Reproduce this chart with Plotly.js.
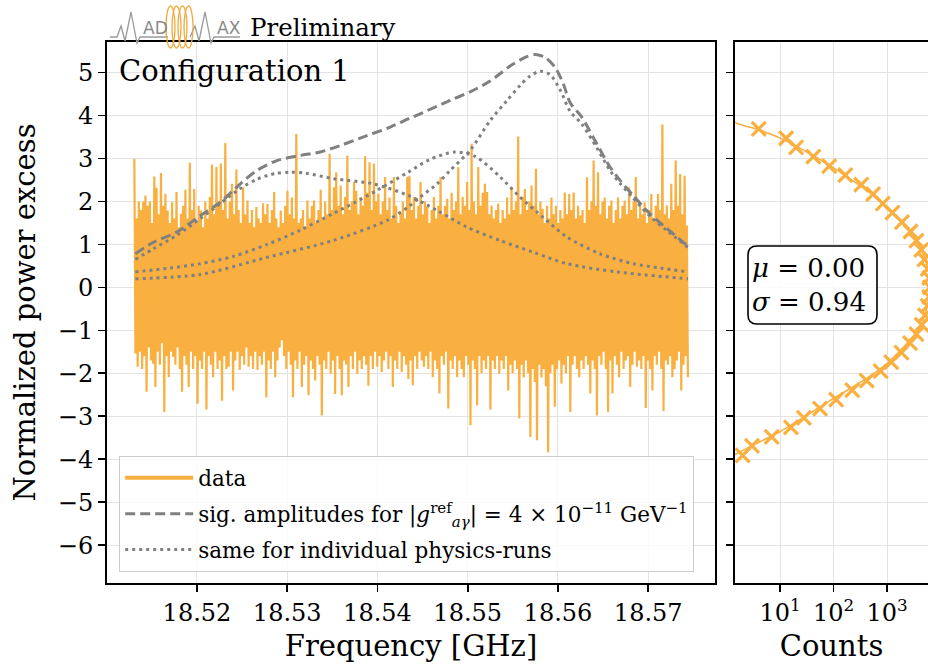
<!DOCTYPE html>
<html><head><meta charset="utf-8">
<script src="https://cdn.plot.ly/plotly-3.0.1.min.js"></script>
<style>html,body{margin:0;padding:0;background:#fff}#chart{width:928px;height:664px}</style>
</head><body><div id="chart"></div>
<script>
// ---------------- data ----------------
const freqStart = 18.51306, freqStop = 18.5744;   // GHz, span of the measured spectrum
// upward excursions of the noisy normalized power (read from picture, left to right)
const dataHigh = [
2.99,1.6,2.0,1.8,2.0,2.14,1.9,2.0,1.5,2.58,
2.32,1.7,2.66,1.9,2.18,1.79,1.5,1.98,1.6,2.22,
1.4,1.71,1.9,2.27,1.6,2.90,1.8,2.29,1.5,1.9,
1.79,1.4,2.0,1.6,2.1,2.86,1.7,2.80,1.9,2.88,
1.8,3.36,1.6,2.0,2.41,1.7,2.74,1.8,1.5,2.33,
1.7,2.02,1.5,1.8,1.4,1.87,1.6,1.5,1.96,1.7,
1.94,1.5,1.8,2.22,1.6,1.4,1.79,1.5,1.9,2.25,
1.7,2.09,1.6,3.57,1.5,1.60,1.8,1.4,2.02,1.6,
1.9,2.02,1.5,1.8,2.27,1.6,2.0,1.7,3.11,1.8,
2.33,2.68,1.9,2.37,1.7,2.1,3.07,1.8,2.0,2.45,
2.25,1.7,2.1,1.9,3.05,2.2,2.91,1.8,2.88,2.0,
2.18,1.7,2.0,2.57,1.8,2.09,1.6,2.57,1.9,1.5,
1.71,2.0,1.6,2.57,2.60,1.8,2.1,1.6,1.9,2.45,
1.7,2.0,1.87,1.5,1.8,2.1,1.6,1.9,2.57,1.7,
1.9,2.06,1.6,2.2,1.8,2.0,2.80,1.7,2.1,1.9,
2.45,1.8,3.34,2.0,1.7,2.80,1.9,2.2,2.41,2.22,
1.7,1.9,1.6,1.8,1.95,1.5,1.8,1.6,2.09,1.7,
2.33,1.8,2.0,3.51,1.7,2.1,2.29,1.8,2.0,2.37,
1.9,2.76,1.7,2.0,1.83,1.5,1.9,1.6,2.09,1.7,
1.9,1.5,1.8,1.6,2.21,1.7,2.17,1.8,2.21,1.6,
1.9,1.67,1.8,1.5,2.56,1.8,2.0,2.95,1.9,2.68,
1.7,2.0,2.09,1.6,1.9,2.02,1.5,1.8,2.09,1.6,
1.9,2.02,1.7,2.33,1.8,2.0,2.57,1.6,1.9,1.7,
1.98,1.5,1.8,2.17,1.6,1.9,2.17,1.8,3.79,1.7,
1.91,1.6,2.41,1.8,2.95,1.9,2.64,1.7,2.60,1.44];
// downward excursions, interleaved with the upward ones
const dataLow = [
-1.54,-1.85,-1.5,-1.9,-1.6,-2.43,-1.4,-1.7,-1.78,-2.32,
-1.5,-1.8,-1.3,-2.90,-1.6,-2.09,-1.5,-1.62,-1.8,-1.4,
-1.9,-2.43,-1.6,-1.8,-2.32,-1.5,-1.9,-1.6,-2.71,-1.7,
-1.9,-1.5,-2.84,-1.6,-1.8,-2.09,-1.5,-1.9,-1.7,-2.64,
-1.6,-1.9,-1.85,-1.5,-2.40,-1.7,-1.5,-1.92,-1.6,-1.8,
-1.4,-1.85,-1.6,-1.9,-1.5,-1.92,-1.6,-1.8,-1.5,-2.56,
-1.7,-1.9,-1.5,-2.09,-1.7,-1.4,-1.23,-1.6,-1.9,-1.5,
-1.8,-2.56,-1.7,-1.9,-1.5,-2.32,-1.8,-1.6,-2.51,-1.7,
-1.9,-2.17,-1.6,-1.8,-2.98,-1.7,-1.9,-1.5,-2.01,-1.7,
-2.48,-1.6,-1.9,-2.51,-1.7,-1.8,-2.32,-1.6,-1.9,-1.5,
-2.01,-1.7,-1.9,-1.6,-1.8,-2.29,-1.6,-1.9,-1.5,-1.85,
-1.6,-1.97,-1.7,-1.5,-1.9,-1.6,-2.32,-1.7,-1.9,-1.5,
-1.97,-1.6,-1.8,-2.13,-1.7,-2.28,-1.6,-1.9,-1.5,-1.7,
-1.85,-1.6,-1.9,-1.5,-2.09,-1.7,-1.9,-2.47,-1.6,-1.8,
-1.5,-2.82,-1.7,-1.9,-1.6,-2.09,-1.7,-1.9,-2.09,-1.6,
-1.8,-3.21,-1.7,-1.9,-2.75,-1.6,-2.0,-1.7,-1.9,-1.6,
-2.84,-1.7,-1.9,-1.6,-2.01,-1.7,-1.9,-1.6,-2.40,-1.8,
-2.0,-1.7,-1.9,-3.05,-1.8,-2.1,-1.7,-2.0,-3.48,-1.9,
-2.2,-3.56,-1.8,-2.1,-1.9,-2.3,-3.84,-2.0,-1.8,-2.78,
-1.9,-1.7,-2.24,-1.8,-2.0,-1.6,-2.90,-1.8,-1.6,-1.9,
-2.09,-1.7,-1.9,-1.6,-1.8,-2.47,-1.7,-1.9,-2.98,-1.6,
-1.8,-1.5,-1.9,-2.90,-1.7,-2.47,-1.6,-1.8,-2.09,-1.5,
-1.9,-1.7,-1.6,-2.32,-1.8,-1.5,-1.85,-1.7,-1.9,-1.6,
-2.81,-1.7,-1.9,-2.40,-1.6,-1.8,-1.5,-1.9,-2.88,-1.7,
-1.8,-1.6,-2.09,-1.9,-1.7,-1.5,-2.40,-1.8,-1.6,-2.09];

// combined signal amplitude (dashed)
const sigFreq = [18.51317,18.51519,18.51779,18.52037,18.52258,18.52480,18.52664,18.52886,18.53144,18.53365,18.53587,18.53883,18.54141,18.54340,18.54473,18.54805,18.55027,18.55248,18.55470,18.55636,18.55746,18.55858,18.55968,18.56057,18.56134,18.56264,18.56430,18.56577,18.56688,18.56832,18.57020,18.57208,18.57426];
const sigAmp  = [0.78,1.05,1.29,1.67,1.98,2.41,2.72,2.95,3.07,3.15,3.30,3.53,3.73,3.92,4.04,4.35,4.55,4.80,5.15,5.35,5.42,5.35,5.12,4.75,4.30,3.96,3.34,2.80,2.49,2.14,1.71,1.37,0.98];
// individual physics runs (dotted)
const run1Freq = [18.51317,18.51517,18.51782,18.52037,18.52258,18.52480,18.52668,18.52867,18.53033,18.53199,18.53509,18.53952,18.54340,18.54661,18.54993,18.55359,18.55724,18.56101,18.56655,18.57441];
const run1Amp  = [0.65,0.90,1.22,1.60,1.95,2.30,2.52,2.65,2.68,2.66,2.53,2.41,2.14,1.79,1.40,1.09,0.82,0.55,0.36,0.20];
const run2Freq = [18.51317,18.51704,18.52037,18.52402,18.52779,18.53144,18.53509,18.53753,18.53997,18.54340,18.54584,18.54860,18.55082,18.55359,18.55580,18.55835,18.56101,18.56466,18.56832,18.57131,18.57441];
const run2Amp  = [0.36,0.45,0.55,0.72,1.00,1.33,1.72,1.98,2.26,2.68,2.98,3.15,3.05,2.57,2.10,1.63,1.17,0.78,0.55,0.45,0.36];
const run3Freq = [18.51317,18.52037,18.52779,18.53509,18.54107,18.54340,18.54473,18.54661,18.54805,18.55027,18.55248,18.55436,18.55580,18.55691,18.55802,18.55913,18.56023,18.56134,18.56264,18.56430,18.56577,18.56688,18.56832,18.57020,18.57208,18.57441];
const run3Amp  = [0.20,0.30,0.70,1.09,1.56,1.87,2.10,2.41,2.72,3.19,3.88,4.35,4.70,4.92,5.03,4.95,4.60,4.10,3.80,3.25,2.72,2.42,2.08,1.65,1.32,0.93];

// histogram of the normalized power excess
const histCenters = [-3.91,-3.69,-3.48,-3.26,-3.04,-2.82,-2.61,-2.39,-2.17,-1.95,-1.74,-1.52,-1.30,-1.09,-0.87,-0.65,-0.43,-0.22,0.00,0.22,0.43,0.65,0.87,1.09,1.30,1.52,1.74,1.95,2.17,2.39,2.61,2.82,3.04,3.26,3.47,3.69];
const histCounts  = [2,3,7,16,28,56,112,224,417,759,1202,1862,2692,3548,4467,5129,5754,6166,6310,6166,5754,5012,4365,3548,2754,1905,1259,832,550,331,166,83,42,20,13,4];
// fitted normal curve (mu = 0.00, sigma = 0.94), as drawn
const fitY      = [4.2,3.82,3.67,3.42,3.15,2.84,2.49,2.18,1.79,1.40,1.09,0.70,0.32,0.0,-0.32,-0.70,-0.92,-1.31,-1.78,-2.12,-2.40,-2.63,-2.98,-3.36,-3.67,-3.87,-4.2];
const fitCounts = [0.45,1.55,3.98,12.6,31.6,85,224,501,1122,2291,3548,5012,6026,6310,5888,4898,4169,2344,977,417,178,87,31.6,10,3.16,1.55,0.45];

const xTickVals = [18.52,18.53,18.54,18.55,18.56,18.57];
const countTickVals = [10,100,1000];
const countTickText = ['10<sup>1</sup>','10<sup>2</sup>','10<sup>3</sup>'];

// ---------------- build ----------------
const ORANGE = '#f9b041', GREY = '#808080';
const FONT = 'DejaVu Serif';
const N = dataHigh.length;
const step = (freqStop - freqStart) / (2 * N - 1);
const dataX = [], dataY = [];
for (let i = 0; i < N; i++) {
  dataX.push(freqStart + 2 * i * step); dataY.push(dataHigh[i]);
  dataX.push(freqStart + (2 * i + 1) * step); dataY.push(dataLow[i]);
}

const W = 928, H = 664, ML = 107, MR = 0, MT = 42, MB = 81;
const PW = W - ML - MR, PH = H - MT - MB;
const px = X => (X - ML) / PW;
const py = Y => (H - MB - Y) / PH;
const dotted = {color: GREY, width: 3, dash: '3px,4px', shape: 'spline', smoothing: 0.8};

const traces = [
  {x: dataX, y: dataY, type: 'scatter', mode: 'lines', name: 'data', showlegend: false,
   line: {color: ORANGE, width: 2.2}, xaxis: 'x', yaxis: 'y'},
  // legend key for the data (thicker line sample, no marks drawn)
  {x: [null], y: [null], type: 'scatter', mode: 'lines', name: 'data',
   line: {color: ORANGE, width: 4}, legendgroup: 'a'},
  {x: sigFreq, y: sigAmp, type: 'scatter', mode: 'lines',
   name: 'sig. amplitudes for |<i>g</i><sup>ref</sup><sub><i>aγ</i></sub>| = 4 × 10<sup>−11</sup> GeV<sup>−1</sup>',
   line: {color: GREY, width: 3, dash: '10px,5px', shape: 'spline', smoothing: 0.8}, legendgroup: 'b'},
  {x: run1Freq, y: run1Amp, type: 'scatter', mode: 'lines', name: 'same for individual physics-runs',
   line: dotted, legendgroup: 'c'},
  {x: run2Freq, y: run2Amp, type: 'scatter', mode: 'lines', showlegend: false, line: dotted, legendgroup: 'c'},
  {x: run3Freq, y: run3Amp, type: 'scatter', mode: 'lines', showlegend: false, line: dotted, legendgroup: 'c'},
  {x: fitCounts, y: fitY, type: 'scatter', mode: 'lines', showlegend: false,
   line: {color: ORANGE, width: 1.6, shape: 'spline', smoothing: 0.6}, xaxis: 'x2', yaxis: 'y2'},
  {x: histCounts, y: histCenters, type: 'scatter', mode: 'markers', showlegend: false,
   marker: {symbol: 'x-thin', size: 14, line: {color: ORANGE, width: 3.2}}, xaxis: 'x2', yaxis: 'y2'}
];

const axisCommon = {
  showline: true, linecolor: '#000', linewidth: 2, mirror: true,
  ticks: 'outside', ticklen: 7, tickwidth: 1.6, tickcolor: '#000',
  showgrid: true, gridcolor: '#e3e3e3', gridwidth: 1, zeroline: false,
  tickfont: {family: FONT, size: 24, color: '#000'}
};

const x0 = px(735);
const boxL = px(748), boxR = px(877), boxT = py(246), boxB = py(324);
const rx = 9 / PW, ry = 9 / PH;
const roundBox = `M ${boxL + rx} ${boxT} L ${boxR - rx} ${boxT} Q ${boxR} ${boxT} ${boxR} ${boxT - ry} ` +
  `L ${boxR} ${boxB + ry} Q ${boxR} ${boxB} ${boxR - rx} ${boxB} L ${boxL + rx} ${boxB} ` +
  `Q ${boxL} ${boxB} ${boxL} ${boxB + ry} L ${boxL} ${boxT - ry} Q ${boxL} ${boxT} ${boxL + rx} ${boxT} Z`;

function poly(pts) { return 'M ' + pts.map(p => px(p[0]) + ' ' + py(p[1])).join(' L '); }
const logoLine1 = poly([[110,37],[117,37],[121,26],[125,41],[131,12],[137,43],[140,37],[168,37]]);
const logoLine2 = poly([[190,37],[195,26],[199,41],[205,12],[211,43],[214,37],[240,37]]);

const shapes = [
  {type: 'path', xref: 'paper', yref: 'paper', path: roundBox, line: {color: '#000', width: 1.6}, fillcolor: 'rgba(255,255,255,0.85)'},
  {type: 'path', xref: 'paper', yref: 'paper', path: logoLine1, line: {color: '#9a9a9a', width: 1.3}},
  {type: 'path', xref: 'paper', yref: 'paper', path: logoLine2, line: {color: '#9a9a9a', width: 1.3}}
];
[[166,175],[172,181],[178,187],[184,193]].forEach(c => shapes.push({
  type: 'circle', xref: 'paper', yref: 'paper', x0: px(c[0]), x1: px(c[1]), y0: py(48), y1: py(6),
  line: {color: '#f2a93b', width: 1.3}
}));

const annotations = [
  {xref: 'paper', yref: 'paper', x: px(117), y: py(71), xanchor: 'left', yanchor: 'middle', showarrow: false,
   text: 'Configuration 1', font: {family: FONT, size: 29, color: '#000'}},
  {xref: 'paper', yref: 'paper', x: px(248), y: py(27), xanchor: 'left', yanchor: 'middle', showarrow: false,
   text: 'Preliminary', font: {family: FONT, size: 24.5, color: '#000'}},
  {xref: 'paper', yref: 'paper', x: px(141), y: py(28), xanchor: 'left', yanchor: 'middle', showarrow: false,
   text: 'AD', font: {family: 'DejaVu Sans', size: 17, color: '#8a8a8a'}},
  {xref: 'paper', yref: 'paper', x: px(215), y: py(28), xanchor: 'left', yanchor: 'middle', showarrow: false,
   text: 'AX', font: {family: 'DejaVu Sans', size: 17, color: '#8a8a8a'}},
  {xref: 'paper', yref: 'paper', x: px(809), y: py(285), xanchor: 'center', yanchor: 'middle', showarrow: false,
   align: 'left', text: '<i>μ</i> = 0.00<br><i>σ</i> = 0.94', font: {family: FONT, size: 26, color: '#000'}}
];

const layout = {
  width: W, height: H, margin: {l: ML, r: MR, t: MT, b: MB}, paper_bgcolor: '#fff', plot_bgcolor: '#fff',
  font: {family: FONT, color: '#000'},
  showlegend: true,
  legend: {x: px(119), y: py(456), xanchor: 'left', yanchor: 'top', bgcolor: 'rgba(255,255,255,0.8)',
           bordercolor: '#cccccc', borderwidth: 1.2, font: {family: FONT, size: 21.5, color: '#000'},
           tracegroupgap: 5, itemwidth: 68},
  xaxis: Object.assign({}, axisCommon, {domain: [0, px(715)], range: [18.51003, 18.5774],
           tickvals: xTickVals, tickformat: '.2f',
           title: {text: 'Frequency [GHz]', font: {family: FONT, size: 29}, standoff: 10}}),
  yaxis: Object.assign({}, axisCommon, {domain: [0, 1], range: [-6.88, 5.71], dtick: 1, tick0: 0,
           title: {text: 'Normalized power excess', font: {family: FONT, size: 29}, standoff: 14}}),
  xaxis2: Object.assign({}, axisCommon, {domain: [x0, 1], type: 'log', range: [0.159, 3.766], anchor: 'y2',
           tickvals: countTickVals, ticktext: countTickText,
           title: {text: 'Counts', font: {family: FONT, size: 29}, standoff: 10}}),
  yaxis2: Object.assign({}, axisCommon, {domain: [0, 1], range: [-6.88, 5.71], dtick: 1, tick0: 0, anchor: 'x2',
           mirror: false, showticklabels: false}),
  shapes: shapes,
  annotations: annotations
};

Plotly.newPlot('chart', traces, layout, {displayModeBar: false, staticPlot: true});
</script></body></html>
